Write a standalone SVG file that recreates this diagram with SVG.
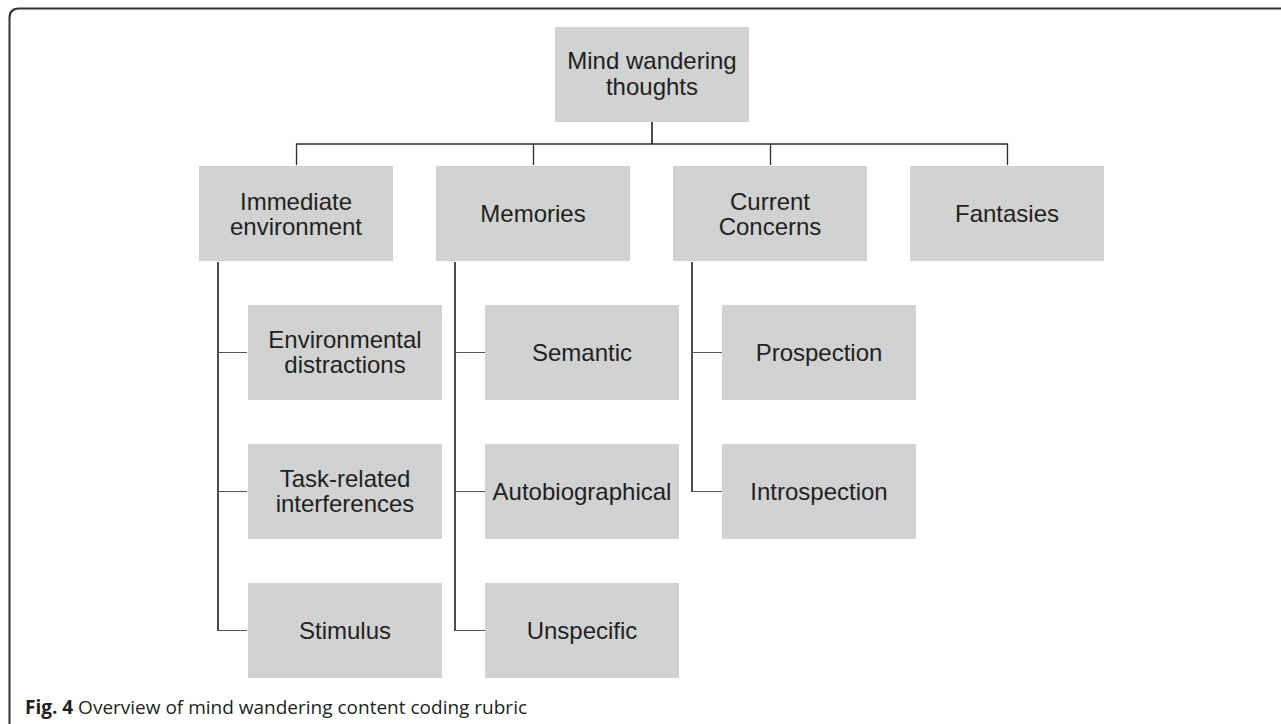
<svg xmlns="http://www.w3.org/2000/svg" width="1281" height="724" viewBox="0 0 1281 724">
<style>
.box{fill:#d1d2d2}
.t{font-family:"Liberation Sans",Arial,sans-serif;font-size:24px;fill:#231f20;text-anchor:middle}
.ln{stroke:#2a2a2a;stroke-width:1.3;fill:none}
.tr{stroke:#231f20;stroke-width:1.6;fill:none}
.br{stroke:#555;stroke-width:1.2;fill:none}
.cap{font-family:"Open Sans","Noto Sans",sans-serif;font-size:19px;fill:#231f20}
</style>
<rect width="1281" height="724" fill="#fff"/>
<path d="M1281 8.5 H19 Q9.5 8.5 9.5 18 V724" fill="none" stroke="#333" stroke-width="2"/>
<g id="connectors">
<path class="tr" d="M652 122 V144"/>
<path class="ln" d="M296.5 165 V144 H1007.5 V165 M533.5 144 V165 M770.5 144 V165"/>
<path class="tr" d="M218 262 V631"/>
<path class="br" d="M218 352.5 H247 M218 491.5 H247 M218 630.5 H247"/>
<path class="tr" d="M455 262 V631"/>
<path class="br" d="M455 352.5 H485 M455 491.5 H485 M455 630.5 H485"/>
<path class="tr" d="M692 262 V492"/>
<path class="br" d="M692 352.5 H722 M692 491.5 H722"/>
</g>
<g id="root"><rect class="box" x="555" y="27" width="194" height="95"/><text class="t" x="652" y="69">Mind wandering</text><text class="t" x="652" y="94.5">thoughts</text></g>
<g id="immediate"><rect class="box" x="199" y="166" width="194" height="95"/><text class="t" x="296" y="209.5">Immediate</text><text class="t" x="296" y="234.5">environment</text></g>
<g id="memories"><rect class="box" x="436" y="166" width="194" height="95"/><text class="t" x="533" y="222">Memories</text></g>
<g id="current"><rect class="box" x="673" y="166" width="194" height="95"/><text class="t" x="770" y="209.5">Current</text><text class="t" x="770" y="234.5">Concerns</text></g>
<g id="fantasies"><rect class="box" x="910" y="166" width="194" height="95"/><text class="t" x="1007" y="222">Fantasies</text></g>
<g id="env-distractions"><rect class="box" x="248" y="305" width="194" height="95"/><text class="t" x="345" y="348">Environmental</text><text class="t" x="345" y="372.5">distractions</text></g>
<g id="task-related"><rect class="box" x="248" y="444" width="194" height="95"/><text class="t" x="345" y="487">Task-related</text><text class="t" x="345" y="511.5">interferences</text></g>
<g id="stimulus"><rect class="box" x="248" y="583" width="194" height="95"/><text class="t" x="345" y="639">Stimulus</text></g>
<g id="semantic"><rect class="box" x="485" y="305" width="194" height="95"/><text class="t" x="582" y="361">Semantic</text></g>
<g id="autobiographical"><rect class="box" x="485" y="444" width="194" height="95"/><text class="t" x="582" y="500">Autobiographical</text></g>
<g id="unspecific"><rect class="box" x="485" y="583" width="194" height="95"/><text class="t" x="582" y="639">Unspecific</text></g>
<g id="prospection"><rect class="box" x="722" y="305" width="194" height="95"/><text class="t" x="819" y="361">Prospection</text></g>
<g id="introspection"><rect class="box" x="722" y="444" width="194" height="95"/><text class="t" x="819" y="500">Introspection</text></g>
<text class="cap" x="25" y="714"><tspan font-weight="bold">Fig. 4</tspan> Overview of mind wandering content coding rubric</text>
</svg>
